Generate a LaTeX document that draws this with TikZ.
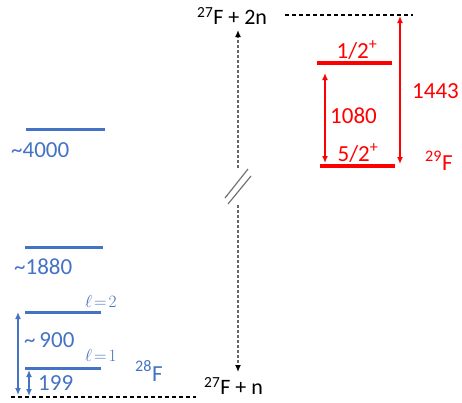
\documentclass[tikz,border=0pt]{standalone}
\usepackage{fontspec}
\setmainfont{Carlito}
\usetikzlibrary{arrows.meta}
\definecolor{lvlblue}{HTML}{4472C4}
\definecolor{lvlred}{HTML}{FF0000}
\tikzset{
  tip/.tip={Latex[length=7pt,width=6pt]},
  bluelevel/.style={draw=lvlblue,line width=3pt},
  redlevel/.style={draw=lvlred,line width=3.2pt},
  bluearrow/.style={draw=lvlblue,line width=1.7pt,tip-tip},
  redarrow/.style={draw=lvlred,line width=1.7pt,tip-tip},
  threshold/.style={draw=black,line width=1.3pt,dash pattern=on 4pt off 3pt},
  gaparrow/.style={draw=black!60,line width=1.5pt,dash pattern=on 3pt off 2pt},
  breakmark/.style={draw=black!55,line width=1.2pt},
  bluetxt/.style={text=lvlblue,font=\fontsize{23}{26}\selectfont,inner sep=0pt},
  redtxt/.style={text=lvlred,font=\fontsize{23}{26}\selectfont,inner sep=0pt},
  blacktxt/.style={text=black,font=\fontsize{22}{25}\selectfont,inner sep=0pt},
  elltxt/.style={text=lvlblue,font=\fontsize{18}{20}\selectfont,inner sep=0pt},
}
\begin{document}
\begin{tikzpicture}[x=1pt,y=-1pt]
\useasboundingbox (0,0) rectangle (462,402);
% thresholds
\coordinate (b1) at (11,397);
\coordinate (b2) at (196,397);
\draw[threshold] (b1) -- (b2);
\coordinate (t1) at (285,15);
\coordinate (t2) at (413,15);
\draw[threshold] (t1) -- (t2);
\node[blacktxt,anchor=west] (tn2) at (197,16) {\textsuperscript{27}F + 2n};
\node[blacktxt,anchor=west] (tn1) at (204,386) {\textsuperscript{27}F + n};
% 28F levels
\coordinate (l4a) at (26,129); \coordinate (l4b) at (105,129);
\draw[bluelevel] (l4a) -- (l4b);
\coordinate (l3a) at (25,247); \coordinate (l3b) at (103,247);
\draw[bluelevel] (l3a) -- (l3b);
\coordinate (l2a) at (25,312); \coordinate (l2b) at (101,312);
\draw[bluelevel] (l2a) -- (l2b);
\coordinate (l1a) at (25,368); \coordinate (l1b) at (101,368);
\draw[bluelevel] (l1a) -- (l1b);
\node[bluetxt,anchor=west] (e4) at (11,150) {\char`~4000};
\node[bluetxt,anchor=west] (e3) at (14,267) {\char`~1880};
\node[bluetxt,anchor=west] (e2) at (24,340) {\char`~\,900};
\node[bluetxt,anchor=west] (e1) at (38,383) {199};
\node[elltxt,anchor=west] (ell2) at (85,301) {$\ell\!=\!2$};
\node[elltxt,anchor=west] (ell1) at (85,355) {$\ell\!=\!1$};
\node[bluetxt,anchor=west] (f28) at (135,371) {\textsuperscript{28}F};
\coordinate (a9t) at (18,312); \coordinate (a9b) at (18,395);
\draw[bluearrow] (a9t) -- (a9b);
\coordinate (a1t) at (29,370); \coordinate (a1b) at (29,396);
\draw[bluearrow] (a1t) -- (a1b);
% vertical gap arrow
\coordinate (gtop) at (238,30); \coordinate (gb1) at (238,168);
\coordinate (gb2) at (238,205); \coordinate (gbot) at (238,372);
\draw[gaparrow,-{Latex[length=7pt,width=6pt,fill=black,color=black]}] (gb1) -- (gtop);
\draw[gaparrow,-{Latex[length=7pt,width=6pt,fill=black,color=black]}] (gb2) -- (gbot);
\coordinate (k1a) at (225,198); \coordinate (k1b) at (248,169);
\coordinate (k2a) at (228,204); \coordinate (k2b) at (251,176);
\draw[breakmark] (k1a) -- (k1b);
\draw[breakmark] (k2a) -- (k2b);
% 29F levels
\coordinate (r2a) at (317,63); \coordinate (r2b) at (392,63);
\draw[redlevel] (r2a) -- (r2b);
\coordinate (r1a) at (320,166); \coordinate (r1b) at (395,166);
\draw[redlevel] (r1a) -- (r1b);
\node[redtxt] (s12) at (357,50) {1/2\textsuperscript{+}};
\node[redtxt] (s52) at (358,153) {5/2\textsuperscript{+}};
\coordinate (q1t) at (325,73); \coordinate (q1b) at (325,163);
\draw[redarrow] (q1t) -- (q1b);
\node[redtxt,anchor=west] (e1080) at (330,116) {1080};
\coordinate (q2t) at (400,16); \coordinate (q2b) at (400,164);
\draw[redarrow] (q2t) -- (q2b);
\node[redtxt,anchor=west] (e1443) at (412,91) {1443};
\node[redtxt,anchor=west] (f29) at (425,161) {\textsuperscript{29}F};
\end{tikzpicture}
\end{document}
